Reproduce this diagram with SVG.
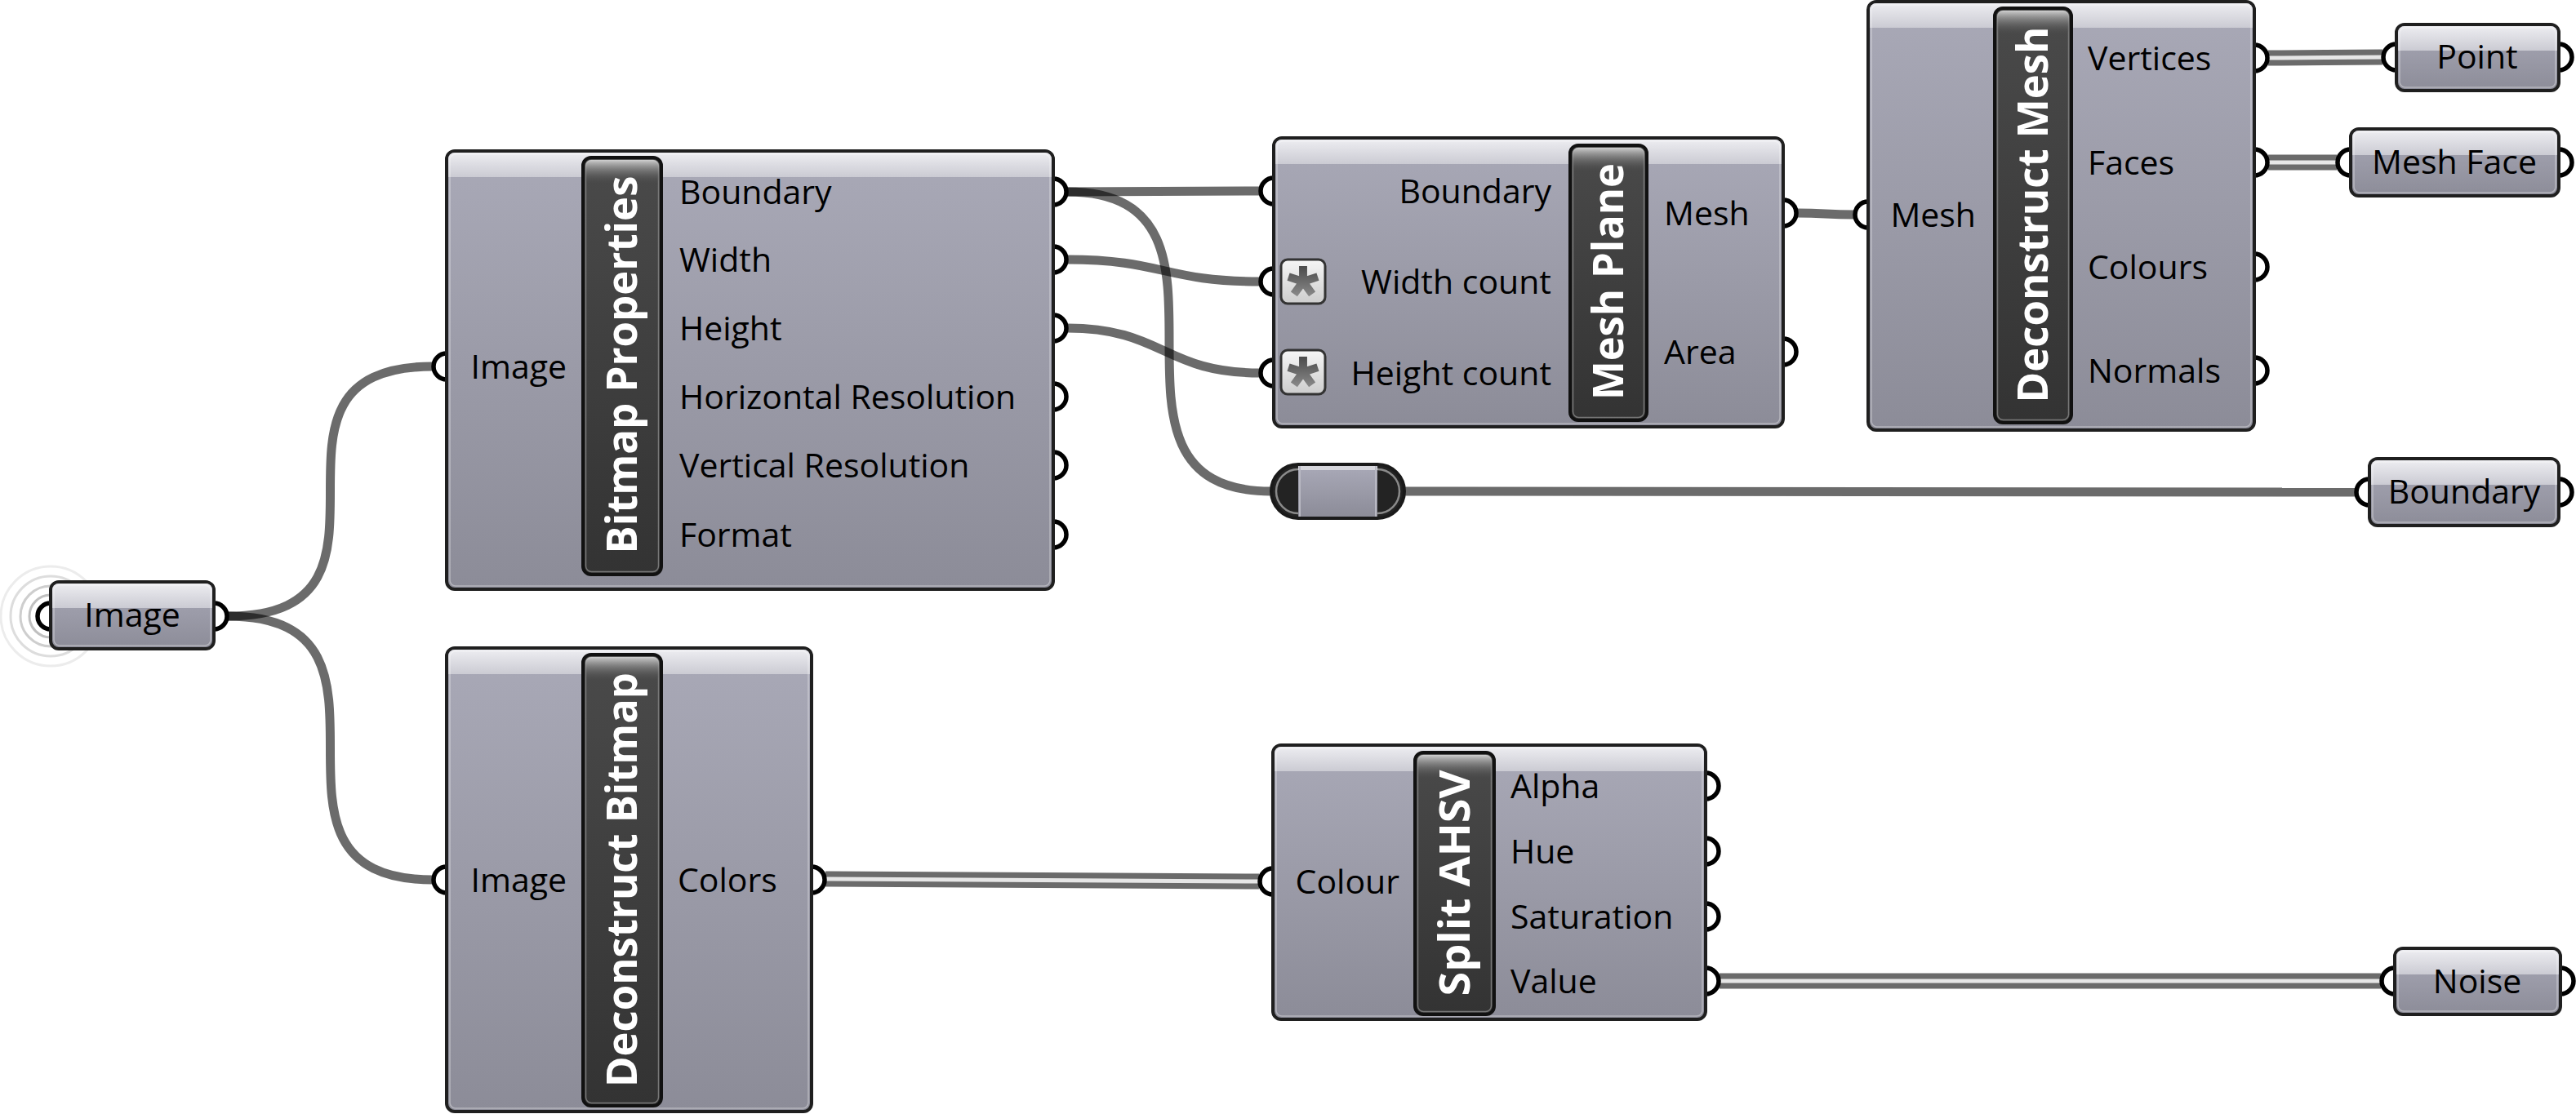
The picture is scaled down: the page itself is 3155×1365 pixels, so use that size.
<svg xmlns="http://www.w3.org/2000/svg" xmlns:xlink="http://www.w3.org/1999/xlink" width="3155" height="1365" viewBox="0 0 3155 1365">
<defs>
<linearGradient id="body" x1="0" y1="0" x2="0" y2="1"><stop offset="0" stop-color="#a9a9b7"/><stop offset="1" stop-color="#8c8c98"/></linearGradient>
<linearGradient id="hdr" x1="0" y1="0" x2="0" y2="1"><stop offset="0" stop-color="#ededf1"/><stop offset="1" stop-color="#cbcbd3"/></linearGradient>
<linearGradient id="strip" x1="0" y1="0" x2="0" y2="1"><stop offset="0" stop-color="#4a4a4a"/><stop offset="1" stop-color="#333333"/></linearGradient>
<linearGradient id="stripTop" x1="0" y1="0" x2="0" y2="1"><stop offset="0" stop-color="#d4d4d4" stop-opacity="0.95"/><stop offset="1" stop-color="#4a4a4a" stop-opacity="0"/></linearGradient>
<linearGradient id="iconFill" x1="0" y1="0" x2="0" y2="1"><stop offset="0" stop-color="#f6f6f6"/><stop offset="1" stop-color="#cdcdcd"/></linearGradient>
<linearGradient id="astFill" x1="0" y1="0" x2="0" y2="1"><stop offset="0" stop-color="#4b4b4b"/><stop offset="1" stop-color="#8a8a8a"/></linearGradient>
<g id="ast">
<rect x="-27" y="-27" width="54" height="54" rx="8" fill="url(#iconFill)" stroke="#333" stroke-width="3"/>
<path transform="scale(0.9)" fill="url(#astFill)" d="M-5.5 0L-5.5 -21L5.5 -21L5.5 0Z M-1.7 -5.23L18.27 -11.72L21.67 -1.26L1.7 5.23Z M4.45 -3.23L16.8 13.76L7.9 20.22L-4.45 3.23Z M4.45 3.23L-7.9 20.22L-16.8 13.76L-4.45 -3.23Z M-1.7 5.23L-21.67 -1.26L-18.27 -11.72L1.7 -5.23Z M0 -7L6.66 -2.16L4.11 5.66L-4.11 5.66L-6.66 -2.16Z"/>
</g>
</defs>
<style>
.wire{fill:none;stroke:#000;stroke-opacity:.58;stroke-width:11}
.dwo{fill:none;stroke:#6b6b6b;stroke-width:19}
.dwi{fill:none;stroke:#e6e6e6;stroke-width:5}
.port{fill:none;stroke:#000;stroke-width:5.5}
.box{fill:url(#body);stroke:#1f1f1f;stroke-width:4}
.hdr{fill:url(#hdr)}
.hl{fill:none;stroke:#fff;stroke-opacity:.35;stroke-width:1.5}
.strip{fill:url(#strip);stroke:#111;stroke-width:4}
.stop{fill:url(#stripTop)}
.shl{fill:none;stroke:#777;stroke-width:1.5}
.lbl{font-family:"Open Sans","Liberation Sans",sans-serif;font-size:41px;fill:#000}
.end{text-anchor:end}
.mid{text-anchor:middle}
.ttl{font-family:"Open Sans","Liberation Sans",sans-serif;font-weight:700;font-size:52px;fill:#fff;text-anchor:middle}
.ring{fill:none;stroke-width:3}
</style>
<rect width="3155" height="1365" fill="#fff"/>

<g id="connectors">
<path class="wire" d="M279 755 C530 755 279 449 530 449"/>
<path class="wire" d="M279 755 C530 755 279 1078 530 1078"/>
<path class="wire" d="M1307 235 L1543 234"/>
<path class="wire" d="M1307 235 C1557 235 1307 602 1557 602"/>
<path class="wire" d="M1307 318 C1425 318 1425 345 1543 345"/>
<path class="wire" d="M1307 402 C1425 402 1425 457 1543 457"/>
<path class="wire" d="M2201 261 C2236 261 2236 263 2271 263"/>
<path class="wire" d="M1720 602 L2885 603"/>
<path class="dwo" d="M2778 71 C2848 71 2848 70 2918 70"/>
<path class="dwi" d="M2778 71 C2848 71 2848 70 2918 70"/>
<path class="dwo" d="M2778 199 L2862 199"/>
<path class="dwi" d="M2778 199 L2862 199"/>
<path class="dwo" d="M1011 1077 C1276 1077 1276 1080 1542 1080"/>
<path class="dwi" d="M1011 1077 C1276 1077 1276 1080 1542 1080"/>
<path class="dwo" d="M2106 1202 L2916 1202"/>
<path class="dwi" d="M2106 1202 L2916 1202"/>
</g>

<g id="image-param">
<circle class="ring" cx="62" cy="755" r="61" stroke="#ececec"/>
<circle class="ring" cx="62" cy="755" r="49" stroke="#dddddd"/>
<circle class="ring" cx="62" cy="755" r="37" stroke="#cecece"/>
<circle class="ring" cx="62" cy="755" r="26" stroke="#c0c0c0"/>
<circle class="port" cx="62" cy="755" r="16"/>
<circle class="port" cx="262" cy="755" r="16"/>
<rect class="box" x="62" y="713" width="200" height="82" rx="10"/>
<path class="hdr" d="M64 745V723A8 8 0 0 1 72 715H252A8 8 0 0 1 260 723V745Z"/>
<rect class="hl" x="66" y="717" width="192" height="74" rx="7"/>
<text class="lbl mid" x="162" y="768">Image</text>
</g>

<g id="bitmap-properties">
<circle class="port" cx="547" cy="449" r="16"/>
<circle class="port" cx="1290" cy="235" r="16"/>
<circle class="port" cx="1290" cy="318" r="16"/>
<circle class="port" cx="1290" cy="402" r="16"/>
<circle class="port" cx="1290" cy="486" r="16"/>
<circle class="port" cx="1290" cy="570" r="16"/>
<circle class="port" cx="1290" cy="655" r="16"/>
<rect class="box" x="547" y="185" width="743" height="537" rx="10"/>
<path class="hdr" d="M549 217V195A8 8 0 0 1 557 187H1280A8 8 0 0 1 1288 195V217Z"/>
<rect class="hl" x="551" y="189" width="735" height="529" rx="7"/>
<rect class="strip" x="714" y="193" width="96" height="511" rx="10"/>
<rect class="shl" x="717.5" y="196.5" width="89" height="504" rx="7"/>
<rect class="stop" x="717" y="196" width="90" height="30" rx="7"/>
<text class="ttl" transform="translate(780 447) rotate(-90)" textLength="463" lengthAdjust="spacingAndGlyphs">Bitmap Properties</text>
<text class="lbl end" x="694" y="464">Image</text>
<text class="lbl" x="832" y="250">Boundary</text>
<text class="lbl" x="832" y="333">Width</text>
<text class="lbl" x="832" y="417">Height</text>
<text class="lbl" x="832" y="501">Horizontal Resolution</text>
<text class="lbl" x="832" y="585">Vertical Resolution</text>
<text class="lbl" x="832" y="670">Format</text>
</g>

<g id="mesh-plane">
<circle class="port" cx="1560" cy="234" r="16"/>
<circle class="port" cx="1560" cy="345" r="16"/>
<circle class="port" cx="1560" cy="457" r="16"/>
<circle class="port" cx="2184" cy="261" r="16"/>
<circle class="port" cx="2184" cy="431" r="16"/>
<rect class="box" x="1560" y="169" width="624" height="354" rx="10"/>
<path class="hdr" d="M1562 201V179A8 8 0 0 1 1570 171H2174A8 8 0 0 1 2182 179V201Z"/>
<rect class="hl" x="1564" y="173" width="616" height="346" rx="7"/>
<use xlink:href="#ast" href="#ast" transform="translate(1596 345)"/>
<use xlink:href="#ast" href="#ast" transform="translate(1596 456)"/>
<rect class="strip" x="1923" y="178" width="94" height="337" rx="10"/>
<rect class="shl" x="1926.5" y="181.5" width="87" height="330" rx="7"/>
<rect class="stop" x="1926" y="181" width="88" height="30" rx="7"/>
<text class="ttl" transform="translate(1988 345) rotate(-90)" textLength="290" lengthAdjust="spacingAndGlyphs">Mesh Plane</text>
<text class="lbl end" x="1900" y="249">Boundary</text>
<text class="lbl end" x="1900" y="360">Width count</text>
<text class="lbl end" x="1900" y="472">Height count</text>
<text class="lbl" x="2038" y="276">Mesh</text>
<text class="lbl" x="2038" y="446">Area</text>
</g>

<g id="deconstruct-mesh">
<circle class="port" cx="2288" cy="263" r="16"/>
<circle class="port" cx="2761" cy="71" r="16"/>
<circle class="port" cx="2761" cy="199" r="16"/>
<circle class="port" cx="2761" cy="327" r="16"/>
<circle class="port" cx="2761" cy="454" r="16"/>
<rect class="box" x="2288" y="2" width="473" height="525" rx="10"/>
<path class="hdr" d="M2290 34V12A8 8 0 0 1 2298 4H2751A8 8 0 0 1 2759 12V34Z"/>
<rect class="hl" x="2292" y="6" width="465" height="517" rx="7"/>
<rect class="strip" x="2443" y="10" width="94" height="508" rx="10"/>
<rect class="shl" x="2446.5" y="13.5" width="87" height="501" rx="7"/>
<rect class="stop" x="2446" y="13" width="88" height="30" rx="7"/>
<text class="ttl" transform="translate(2508 263) rotate(-90)" textLength="461" lengthAdjust="spacingAndGlyphs">Deconstruct Mesh</text>
<text class="lbl end" x="2420" y="278">Mesh</text>
<text class="lbl" x="2557" y="86">Vertices</text>
<text class="lbl" x="2557" y="214">Faces</text>
<text class="lbl" x="2557" y="342">Colours</text>
<text class="lbl" x="2557" y="469">Normals</text>
</g>

<g id="point-param">
<circle class="port" cx="2935" cy="70" r="16"/>
<circle class="port" cx="3134" cy="70" r="16"/>
<rect class="box" x="2935" y="30" width="199" height="81" rx="10"/>
<path class="hdr" d="M2937 62V40A8 8 0 0 1 2945 32H3124A8 8 0 0 1 3132 40V62Z"/>
<rect class="hl" x="2939" y="34" width="191" height="73" rx="7"/>
<text class="lbl mid" x="3034" y="84">Point</text>
</g>

<g id="mesh-face-param">
<circle class="port" cx="2879" cy="199" r="16"/>
<circle class="port" cx="3134" cy="199" r="16"/>
<rect class="box" x="2879" y="158" width="255" height="82" rx="10"/>
<path class="hdr" d="M2881 190V168A8 8 0 0 1 2889 160H3124A8 8 0 0 1 3132 168V190Z"/>
<rect class="hl" x="2883" y="162" width="247" height="74" rx="7"/>
<text class="lbl mid" x="3006" y="213">Mesh Face</text>
</g>

<g id="relay">
<rect x="1557" y="569" width="163" height="66" rx="33" fill="#232323" stroke="#1a1a1a" stroke-width="4"/>
<rect x="1563" y="575" width="151" height="54" rx="27" fill="none" stroke="#8a8a8a" stroke-width="2.5"/>
<rect x="1590" y="571" width="97" height="62" fill="url(#body)"/>
<rect x="1590" y="571" width="97" height="5" fill="#d6d6dc"/>
<rect x="1591" y="571" width="2" height="62" fill="#b8b8c2"/>
<rect x="1684" y="571" width="2" height="62" fill="#b8b8c2"/>
</g>

<g id="boundary-param">
<circle class="port" cx="2902" cy="603" r="16"/>
<circle class="port" cx="3134" cy="603" r="16"/>
<rect class="box" x="2902" y="562" width="232" height="82" rx="10"/>
<path class="hdr" d="M2904 594V572A8 8 0 0 1 2912 564H3124A8 8 0 0 1 3132 572V594Z"/>
<rect class="hl" x="2906" y="566" width="224" height="74" rx="7"/>
<text class="lbl mid" x="3018" y="617">Boundary</text>
</g>

<g id="deconstruct-bitmap">
<circle class="port" cx="547" cy="1078" r="16"/>
<circle class="port" cx="994" cy="1078" r="16"/>
<rect class="box" x="547" y="794" width="447" height="568" rx="10"/>
<path class="hdr" d="M549 826V804A8 8 0 0 1 557 796H984A8 8 0 0 1 992 804V826Z"/>
<rect class="hl" x="551" y="798" width="439" height="560" rx="7"/>
<rect class="strip" x="714" y="802" width="96" height="553" rx="10"/>
<rect class="shl" x="717.5" y="805.5" width="89" height="546" rx="7"/>
<rect class="stop" x="717" y="805" width="90" height="30" rx="7"/>
<text class="ttl" transform="translate(780 1078) rotate(-90)" textLength="508" lengthAdjust="spacingAndGlyphs">Deconstruct Bitmap</text>
<text class="lbl end" x="694" y="1093">Image</text>
<text class="lbl" x="830" y="1093">Colors</text>
</g>

<g id="split-ahsv">
<circle class="port" cx="1559" cy="1080" r="16"/>
<circle class="port" cx="2089" cy="963" r="16"/>
<circle class="port" cx="2089" cy="1043" r="16"/>
<circle class="port" cx="2089" cy="1123" r="16"/>
<circle class="port" cx="2089" cy="1202" r="16"/>
<rect class="box" x="1559" y="913" width="530" height="336" rx="10"/>
<path class="hdr" d="M1561 945V923A8 8 0 0 1 1569 915H2079A8 8 0 0 1 2087 923V945Z"/>
<rect class="hl" x="1563" y="917" width="522" height="328" rx="7"/>
<rect class="strip" x="1733" y="922" width="97" height="321" rx="10"/>
<rect class="shl" x="1736.5" y="925.5" width="90" height="314" rx="7"/>
<rect class="stop" x="1736" y="925" width="91" height="30" rx="7"/>
<text class="ttl" transform="translate(1800 1082) rotate(-90)" textLength="277" lengthAdjust="spacingAndGlyphs">Split AHSV</text>
<text class="lbl end" x="1714" y="1095">Colour</text>
<text class="lbl" x="1850" y="978">Alpha</text>
<text class="lbl" x="1850" y="1058">Hue</text>
<text class="lbl" x="1850" y="1138">Saturation</text>
<text class="lbl" x="1850" y="1217">Value</text>
</g>

<g id="noise-param">
<circle class="port" cx="2933" cy="1202" r="16"/>
<circle class="port" cx="3136" cy="1202" r="16"/>
<rect class="box" x="2933" y="1162" width="203" height="81" rx="10"/>
<path class="hdr" d="M2935 1194V1172A8 8 0 0 1 2943 1164H3126A8 8 0 0 1 3134 1172V1194Z"/>
<rect class="hl" x="2937" y="1166" width="195" height="73" rx="7"/>
<text class="lbl mid" x="3034" y="1217">Noise</text>
</g>
</svg>
